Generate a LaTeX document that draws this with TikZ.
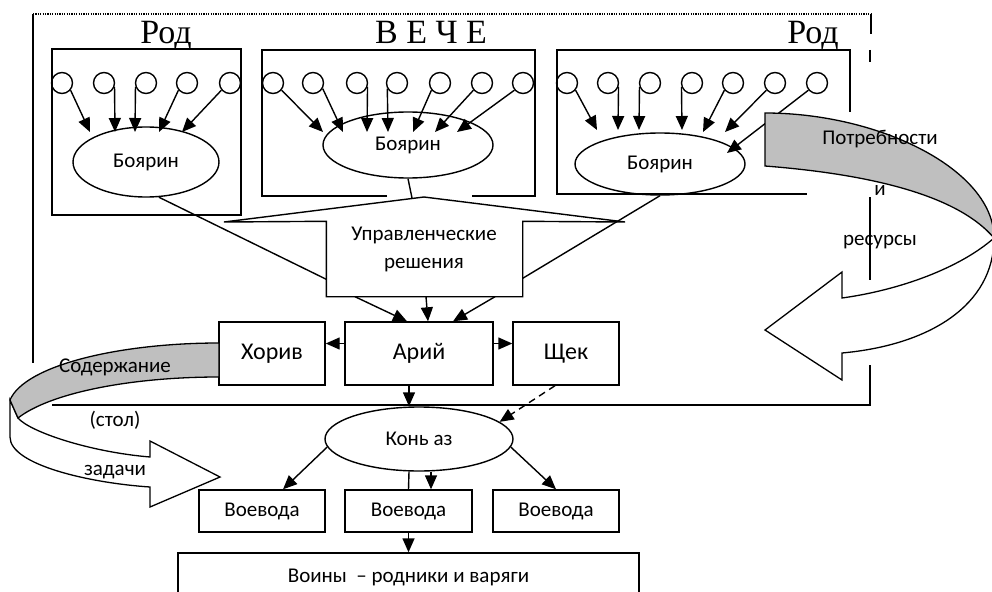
\documentclass[tikz,border=0pt]{standalone}
\usepackage{fontspec}
\setmainfont{Carlito}
\newfontfamily\tnr{Liberation Serif}
\usetikzlibrary{arrows.meta,shapes.geometric,calc}
\begin{document}
\begin{tikzpicture}[x=1pt,y=-1pt,line width=1.4pt,
  arr/.style={-{Triangle[length=14pt,width=12pt]}},
  circ/.style={draw,circle,minimum size=21pt,inner sep=0pt},
  ell/.style={draw,ellipse,inner sep=0pt,font=\fontsize{21}{24}\selectfont},
  rbox/.style={draw,rectangle,inner sep=0pt,font=\fontsize{24}{28}\selectfont},
  sbox/.style={draw,rectangle,inner sep=0pt,font=\fontsize{21}{24}\selectfont},
  lbl/.style={inner sep=0pt,font=\fontsize{21}{28}\selectfont},
  ttl/.style={inner sep=0pt,anchor=base,font=\tnr\fontsize{34}{38}\selectfont},
  band/.style={draw,fill=black!25,line width=1.3pt},
  bandw/.style={draw,fill=white,line width=1.3pt}]
\useasboundingbox (0,0) rectangle (992,591);

% titles
\node[ttl] (rod1) at (166,44) {Род};
\node[ttl] (veche) at (431,44) {В Е Ч Е};
\node[ttl] (rod2) at (813,44) {Род};

% outer frame
\draw[dash pattern=on 1.2pt off 1.2pt,line width=1.1pt] (33,14) -- (871,14);
\draw (33,14) -- (33,363);
\draw (871,14) -- (871,34);
\draw[line width=2pt] (870,50) -- (870,62);
\draw (870,197) -- (870,280);
\draw (870,365) -- (870,405) -- (52,405);

% clan boxes
\draw (52,215) -- (52,49) -- (241,49) -- (241,215) -- cycle;
\draw (387,196) -- (262,196) -- (262,50) -- (535,50) -- (535,196) -- (472,196);
\draw (850,112) -- (850,50) -- (557,50) -- (557,194) -- (807,194);

% circles
\foreach \x [count=\i] in {62,104,146,187,230} \node[circ] (a\i) at (\x,83) {};
\foreach \x [count=\i] in {273,313,357,397,440,482,523} \node[circ] (b\i) at (\x,83) {};
\foreach \x [count=\i] in {567,608,650,692,733,775,817} \node[circ] (c\i) at (\x,83) {};

% boyars
\node[ell,minimum width=146pt,minimum height=70pt] (e1) at (146,162) {Боярин};
\node[ell,minimum width=170pt,minimum height=66pt] (e2) at (408,145) {Боярин};
\node[ell,minimum width=170pt,minimum height=62pt] (e3) at (660,164) {Боярин};

% arrows circles -> boyars
\foreach \i/\a/\tx/\ty in {1/-40/90/132, 2/-20/115/132, 3/-160/135/132, 4/-140/159/132, 5/-140/182/132}{
  \coordinate (ta\i) at (\tx,\ty);
  \draw[arr] (a\i.\a) -- (ta\i);}
\foreach \i/\a/\tx/\ty in {1/-40/323/132, 2/-30/343/132, 3/-20/367/132, 4/-150/388/132, 5/-140/413/132, 6/-140/435/132, 7/-140/457/132}{
  \coordinate (tb\i) at (\tx,\ty);
  \draw[arr] (b\i.\a) -- (tb\i);}
\foreach \i/\a/\tx/\ty in {1/-40/597/130, 2/-20/618/130, 3/-160/639/130, 4/-160/682/130, 5/-140/703/132, 6/-140/725/132, 7/-140/727/153}{
  \coordinate (tc\i) at (\tx,\ty);
  \draw[arr] (c\i.\a) -- (tc\i);}

% management decisions callout
\node[minimum width=195pt,minimum height=74pt,inner sep=0pt] (upr) at (424.5,259) {};
\coordinate (apex) at (424,197);
\coordinate (roofl) at (224,222);
\coordinate (roofr) at (625,222);
\draw (upr.north west) -- (roofl) -- (apex) -- (roofr) -- (upr.north east) -- (upr.south east) -- (upr.south west) -- cycle;
\node[lbl,align=center] (uprt) at (424,249) {Управленческие\\решения};
\coordinate (roofpt) at (412,198);
\draw (e1.-70) -- ([yshift=-58pt]upr.north west);
\draw (e3.south) -- ([yshift=-57pt]upr.north east);
\draw (e2.south) -- (roofpt);

% princes
\node[rbox,minimum width=148pt,minimum height=63pt] (arij) at (419,353.5) {Арий};
\node[rbox,minimum width=106pt,minimum height=63pt] (horiv) at (272,353.5) {Хорив};
\node[rbox,minimum width=106pt,minimum height=63pt] (shek) at (566,353.5) {Щек};
\draw[arr] ([xshift=-69.5pt]upr.south) -- ([xshift=-12pt]arij.north);
\draw[arr] ([xshift=1.5pt]upr.south) -- ([xshift=9pt]arij.north);
\draw[arr] ([xshift=70.5pt]upr.south) -- ([xshift=34pt]arij.north);
\draw[arr] ([yshift=10pt]arij.west) -- ([yshift=10pt]horiv.east);
\draw[arr] ([yshift=10pt]arij.east) -- ([yshift=10pt]shek.west);

% kon az
\node[ell,minimum width=188pt,minimum height=64pt] (koni) at (419,439) {Конь аз};
\draw[arr] ([xshift=-10pt]arij.south) -- ([xshift=-10pt]koni.north);
\draw[arr,dash pattern=on 7pt off 5pt] ([xshift=-11pt]shek.south) -- (koni.12);

% voevody
\node[sbox,minimum width=126pt,minimum height=42pt] (v1) at (262,511) {Воевода};
\node[sbox,minimum width=127pt,minimum height=42pt] (v2) at (408.5,511) {Воевода};
\node[sbox,minimum width=126pt,minimum height=42pt] (v3) at (556,511) {Воевода};
\draw[arr] (koni.-175) -- ([xshift=21pt]v1.north);
\draw[arr] (koni.-5) -- (v3.north);
\draw ([xshift=-10pt]koni.south) -- (v2.north);
\draw[arr] ([xshift=12pt]koni.south) -- ([xshift=22.5pt]v2.north);

\node[lbl,draw,minimum width=461pt,minimum height=48pt] (voiny) at (408.5,577) {Воины \ – родники и варяги};
\draw[arr] (v2.south) -- (voiny.north);

% right curved arrow
\draw[bandw] (994,238) .. controls (994,305) and (930,345) .. (842,353) -- (842,380) -- (765,330) -- (842,272) -- (842,298) .. controls (900,290) and (960,268) .. (994,238) -- cycle;
\draw[band] (765,113) .. controls (880,113) and (994,170) .. (994,238) .. controls (960,198) and (880,175) .. (765,166) -- cycle;
\node[lbl] (potr) at (880,139) {Потребности};
\node[lbl] (tI) at (880,190) {и};
\node[lbl] (res) at (880,242) {ресурсы};

% left curved arrow
\draw[bandw] (10,400) -- (10,437) .. controls (10,465) and (90,483) .. (150,487) -- (150,507) -- (220,477) -- (150,441) -- (150,457) .. controls (90,452) and (30,432) .. (18,418) -- cycle;
\draw[band] (219,343) .. controls (120,343) and (25,365) .. (10,400) -- (18,418) .. controls (50,393) and (130,377) .. (219,377) -- cycle;
\node[lbl] (sod) at (115,367) {Содержание};
\node[lbl] (stol) at (115,420) {(стол)};
\node[lbl] (zad) at (115,472) {задачи};
\end{tikzpicture}
\end{document}
